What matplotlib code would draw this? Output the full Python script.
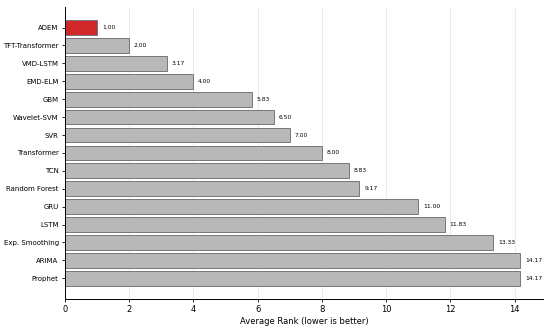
import matplotlib
matplotlib.use("Agg")
import matplotlib.pyplot as plt

# average ranks per model (lower is better)
models = ["ADEM", "TFT-Transformer", "VMD-LSTM", "EMD-ELM", "GBM", "Wavelet-SVM",
          "SVR", "Transformer", "TCN", "Random Forest", "GRU", "LSTM",
          "Exp. Smoothing", "ARIMA", "Prophet"]
ranks = [1.00, 2.00, 3.17, 4.00, 5.83, 6.50, 7.00, 8.00, 8.83, 9.17,
         11.00, 11.83, 13.33, 14.17, 14.17]

fig = plt.figure(figsize=(5.5, 3.31), dpi=100)
ax = fig.add_axes([0.118, 0.097, 0.869, 0.882])

colors = ["#d0282a" if m == "ADEM" else "#b8b8b8" for m in models]
ypos = list(range(len(models)))
ax.barh(ypos, ranks, height=0.82, color=colors, edgecolor="#777777", linewidth=0.7)
ax.set_yticks(ypos)
ax.set_yticklabels(models, fontsize=5)
ax.invert_yaxis()

for y, r in zip(ypos, ranks):
    ax.text(r + 0.15, y, "%.2f" % r, va="center", ha="left", fontsize=4.3)

ax.set_xlim(0, max(ranks) * 1.05)
ax.set_xlabel("Average Rank (lower is better)", fontsize=6, labelpad=2)
ax.tick_params(axis="x", labelsize=6, length=2.5, width=0.6, pad=2)
ax.tick_params(axis="y", length=2.5, width=0.6, pad=2)
ax.grid(axis="x", color="#e8e8e8", linewidth=0.6)
ax.set_axisbelow(True)
for s in ["left", "bottom"]:
    ax.spines[s].set_linewidth(0.7)
ax.spines["top"].set_visible(False)
ax.spines["right"].set_visible(False)

fig.savefig("out.png", dpi=100)
